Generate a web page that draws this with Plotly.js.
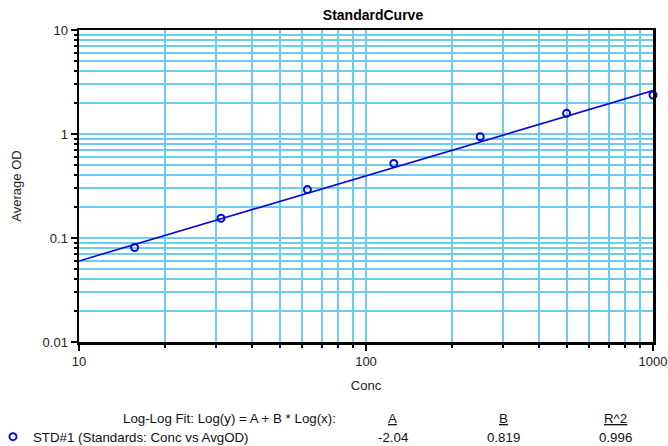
<!DOCTYPE html>
<html>
<head>
<meta charset="utf-8">
<script src="https://cdn.plot.ly/plotly-3.0.1.min.js"></script>
<style>
  html, body { margin: 0; padding: 0; background: #fff; }
  #chart { width: 668px; height: 446px; }
</style>
</head>
<body>
<div id="chart"></div>
<script>
// Standard concentrations and their average optical densities
var conc = [15.625, 31.25, 62.5, 125, 250, 500, 1000];
var avgOD = [0.081, 0.155, 0.292, 0.52, 0.94, 1.58, 2.37];

// Log-log fit parameters: Log(y) = A + B * Log(x)
var fitA = -2.04;
var fitB = 0.819;
var fitR2 = 0.996;
var fitRange = [10, 1000];

var xMajor = [10, 100, 1000];
var xMajorText = ['10', '100', '1000'];
var yMajor = [0.01, 0.1, 1, 10];
var yMajorText = ['0.01', '0.1', '1', '10'];

function minorsBetween(lo, hi) {
  var out = [];
  for (var d = lo; d < hi; d *= 10) {
    for (var k = 2; k <= 9; k++) out.push(k * d);
  }
  return out;
}

var fitY = fitRange.map(function (x) {
  return Math.pow(10, fitA + fitB * Math.log10(x));
});

var blue = '#0a0ad2';
var gridBlue = '#6dcdf0';
var font = 'Liberation Sans, Arial, sans-serif';

var traces = [
  {
    x: fitRange, y: fitY, mode: 'lines', type: 'scatter',
    line: { color: blue, width: 1.6 },
    showlegend: false, hoverinfo: 'skip'
  },
  {
    x: conc, y: avgOD, mode: 'markers', type: 'scatter',
    name: 'STD#1 (Standards: Conc vs AvgOD)',
    marker: { symbol: 'circle-open', size: 7, color: blue, line: { width: 2, color: blue } },
    cliponaxis: false
  }
];

// plot area: 79..653 px wide, 30..342 px tall
var L = 79, R = 653, T = 30, B = 342;
function px(xp) { return (xp - L) / (R - L); }
function py(yp) { return (B - yp) / (B - T); }

var textFont = { family: font, size: 13.3, color: '#111' };
var tickFont = { family: font, size: 13, color: '#222' };

var annotations = [
  { text: 'Log-Log Fit: Log(y) = A + B * Log(x):', x: px(338), y: py(418), xanchor: 'right' },
  { text: '<u>A</u>', x: px(393), y: py(418), xanchor: 'center' },
  { text: '<u>B</u>', x: px(503), y: py(418), xanchor: 'center' },
  { text: '<u>R^2</u>', x: px(615), y: py(418), xanchor: 'center' },
  { text: fitA.toFixed(2), x: px(393), y: py(437), xanchor: 'center' },
  { text: fitB.toFixed(3), x: px(503), y: py(437), xanchor: 'center' },
  { text: fitR2.toFixed(3), x: px(615), y: py(437), xanchor: 'center' }
].map(function (a) {
  a.xref = 'paper'; a.yref = 'paper'; a.yanchor = 'middle';
  a.showarrow = false; a.font = textFont;
  return a;
});

var axisCommon = {
  type: 'log',
  tickmode: 'array',
  automargin: false,
  showline: true, linecolor: '#000', linewidth: 2.5, mirror: true,
  ticks: 'outside', ticklen: 6, tickwidth: 2, tickcolor: '#000',
  showgrid: true, gridcolor: gridBlue, gridwidth: 2,
  zeroline: false,
  tickfont: tickFont
};

var layout = {
  width: 668, height: 446,
  margin: { l: L, r: 668 - R, t: T, b: 446 - B, autoexpand: false },
  paper_bgcolor: '#fff', plot_bgcolor: '#fff',
  title: {
    text: '<b>StandardCurve</b>',
    font: { family: font, size: 14, color: '#000' },
    x: px(373), xref: 'paper', y: 1 - 15 / 446, yanchor: 'middle'
  },
  xaxis: Object.assign({}, axisCommon, {
    range: [1, 3],
    tickvals: xMajor, ticktext: xMajorText,
    minor: { tickmode: 'array', tickvals: minorsBetween(10, 1000), ticks: 'outside', ticklen: 3, tickwidth: 2, tickcolor: '#000', showgrid: true, gridcolor: gridBlue, gridwidth: 2 },
    title: { text: 'Conc', font: tickFont, standoff: 13 }
  }),
  yaxis: Object.assign({}, axisCommon, {
    range: [-2, 1],
    tickvals: yMajor, ticktext: yMajorText,
    minor: { tickmode: 'array', tickvals: minorsBetween(0.01, 10), ticks: 'outside', ticklen: 3, tickwidth: 2, tickcolor: '#000', showgrid: true, gridcolor: gridBlue, gridwidth: 2 },
    title: { text: 'Average OD', font: tickFont, standoff: 18 }
  }),
  showlegend: true,
  legend: {
    x: px(-7), xanchor: 'left', y: py(437), yanchor: 'middle',
    xref: 'paper', yref: 'paper',
    bgcolor: 'rgba(0,0,0,0)', borderwidth: 0,
    font: textFont, itemwidth: 30
  },
  annotations: annotations
};

Plotly.newPlot('chart', traces, layout, { displayModeBar: false, staticPlot: true });
</script>
</body>
</html>
